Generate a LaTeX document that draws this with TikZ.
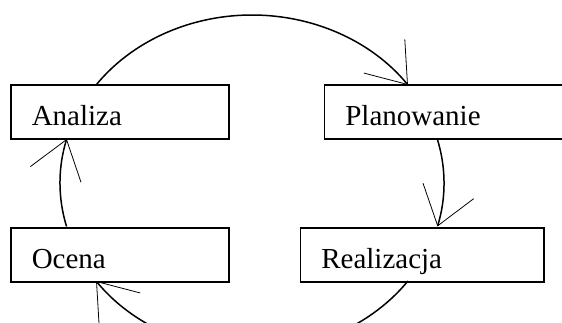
\documentclass[tikz,border=0pt]{standalone}
\usepackage{fontspec}
\setmainfont{Liberation Serif}
\usetikzlibrary{arrows.meta, positioning}
\tikzstyle{block}=[draw,fill=white,rectangle,line width=.9pt,minimum height=1.08cm,inner xsep=.42cm,text height=.54cm,text depth=0pt,align=left]
\tikzstyle{every node}=[font=\fontsize{16.5}{20}\selectfont]
\tikzstyle{flow}=[line width=.85pt,x radius=3.84cm,y radius=3.36cm]

\begin{document}
\begin{tikzpicture}[>={Straight Barb[length=.73cm,width=1.06cm,line width=.45pt]}]
    \useasboundingbox (0,0) rectangle (11.24,6.44);
    \coordinate (c) at (5.04,2.78);
    \node[block, text width=3.53cm] (analiza) at (2.40,4.20) {Analiza};
    \node[block, text width=3.53cm, below=1.75cm of analiza] (ocena) {Ocena};
    \node[block, text width=4.03cm, right=1.87cm of analiza] (planowanie) {Planowanie};
    \node[block, text width=4.03cm, below=1.75cm of planowanie, xshift=-.48cm] (realizacja) {Realizacja};
    % cycle round the four boxes
    \draw[flow,->] (c) ++(144.3:3.84cm and 3.36cm) arc[start angle=144.3, end angle=35.7];
    \draw[flow,->] (c) ++(15.2:3.84cm and 3.36cm) arc[start angle=15.2, end angle=-15];
    \draw[flow,->] (c) ++(-35.7:3.84cm and 3.36cm) arc[start angle=-35.7, end angle=-144.3];
    \draw[flow,->] (c) ++(195:3.84cm and 3.36cm) arc[start angle=195, end angle=164.8];
\end{tikzpicture}
\end{document}
